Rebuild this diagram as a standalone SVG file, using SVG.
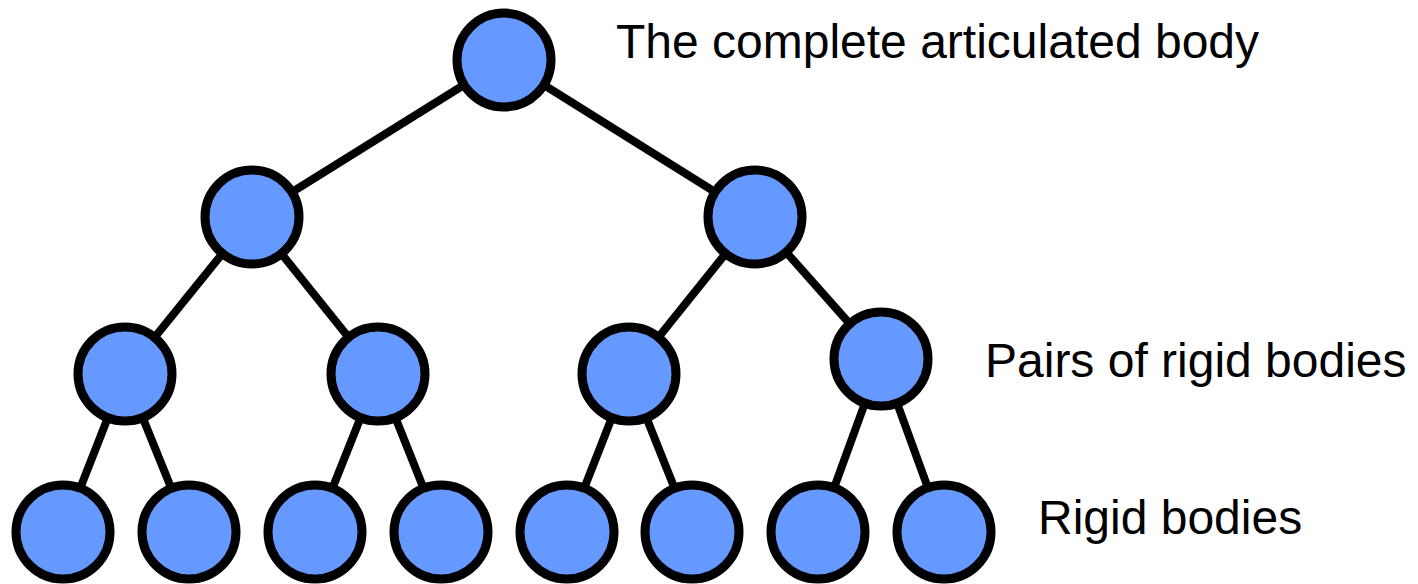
<svg xmlns="http://www.w3.org/2000/svg" width="1418" height="584" viewBox="0 0 1418 584">
  <style>
    .edge { stroke: #000; stroke-width: 8; fill: none; }
    .node circle { fill: #6699FF; stroke: #000; stroke-width: 9; }
    .label { font-family: "Liberation Sans", Arial, sans-serif; font-size: 48px; fill: #000; }
  </style>
  <rect width="1418" height="584" fill="#fff"/>

  <!-- tree edges, centre to centre (nodes are painted on top) -->
  <g id="connectors">
    <line class="edge" x1="504" y1="60" x2="252" y2="217"/>
    <line class="edge" x1="504" y1="60" x2="755" y2="217"/>
    <line class="edge" x1="252" y1="217" x2="125" y2="374"/>
    <line class="edge" x1="252" y1="217" x2="378" y2="374"/>
    <line class="edge" x1="755" y1="217" x2="629" y2="374"/>
    <line class="edge" x1="755" y1="217" x2="881" y2="359"/>
    <line class="edge" x1="125" y1="374" x2="63" y2="532"/>
    <line class="edge" x1="125" y1="374" x2="189" y2="532"/>
    <line class="edge" x1="378" y1="374" x2="315" y2="532"/>
    <line class="edge" x1="378" y1="374" x2="441" y2="532"/>
    <line class="edge" x1="629" y1="374" x2="567" y2="532"/>
    <line class="edge" x1="629" y1="374" x2="692" y2="532"/>
    <line class="edge" x1="881" y1="359" x2="818" y2="532"/>
    <line class="edge" x1="881" y1="359" x2="944" y2="532"/>
  </g>

  <!-- root -->
  <g id="n-root" class="node"><circle cx="504" cy="60" r="47"/></g>
  <!-- second level -->
  <g id="n-l" class="node"><circle cx="252" cy="217" r="47"/></g>
  <g id="n-r" class="node"><circle cx="755" cy="217" r="47"/></g>
  <!-- pairs -->
  <g id="n-ll" class="node"><circle cx="125" cy="374" r="47"/></g>
  <g id="n-lr" class="node"><circle cx="378" cy="374" r="47"/></g>
  <g id="n-rl" class="node"><circle cx="629" cy="374" r="47"/></g>
  <g id="n-rr" class="node"><circle cx="881" cy="359" r="47"/></g>
  <!-- leaves -->
  <g id="n-1" class="node"><circle cx="63" cy="532" r="47"/></g>
  <g id="n-2" class="node"><circle cx="189" cy="532" r="47"/></g>
  <g id="n-3" class="node"><circle cx="315" cy="532" r="47"/></g>
  <g id="n-4" class="node"><circle cx="441" cy="532" r="47"/></g>
  <g id="n-5" class="node"><circle cx="567" cy="532" r="47"/></g>
  <g id="n-6" class="node"><circle cx="692" cy="532" r="47"/></g>
  <g id="n-7" class="node"><circle cx="818" cy="532" r="47"/></g>
  <g id="n-8" class="node"><circle cx="944" cy="532" r="47"/></g>

  <!-- level captions -->
  <g id="captions">
    <text class="label" x="616" y="58">The complete articulated body</text>
    <text class="label" x="985" y="377">Pairs of rigid bodies</text>
    <text class="label" x="1038" y="534">Rigid bodies</text>
  </g>
</svg>
